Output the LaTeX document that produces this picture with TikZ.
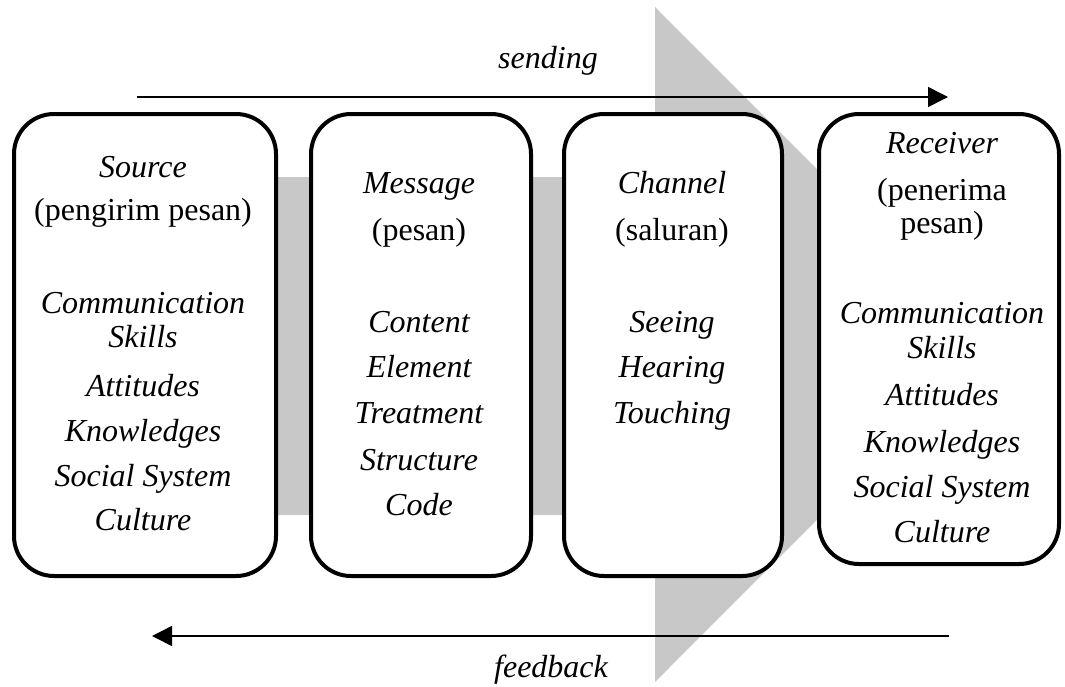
\documentclass[tikz,border=0pt]{standalone}
\usepackage{fontspec}
\setmainfont{Liberation Serif}
\usetikzlibrary{arrows.meta}
\definecolor{shadegray}{RGB}{200,200,200}
\begin{document}
\begin{tikzpicture}[x=1pt,y=-1pt,
  box/.style={draw=black, line width=4pt, rounded corners=40pt, fill=white, inner sep=0pt},
  up/.style={font=\fontsize{32}{36}\selectfont, inner sep=0pt, anchor=base},
  it/.style={font=\fontsize{32}{36}\selectfont\itshape, inner sep=0pt, anchor=base},
  flow/.style={line width=1.5pt, -{Triangle[length=20pt,width=20pt]}}]
\useasboundingbox (0,0) rectangle (1065,686);
% big background arrow
\fill[shadegray] (40,177) -- (655,177) -- (655,7) -- (992,344.5) -- (655,682) -- (655,515) -- (40,515) -- cycle;
% sending / feedback arrows
\coordinate (sendS) at (137,97);
\coordinate (sendE) at (948,97);
\draw[flow] (sendS) -- (sendE);
\node[it] (sending) at (548,68) {sending};
\coordinate (fbS) at (949,636);
\coordinate (fbE) at (152,636);
\draw[flow] (fbS) -- (fbE);
\node[it] (feedback) at (551,677) {feedback};
% boxes
\node[box, minimum width=262pt, minimum height=462pt] (b1) at (145,345) {};
\node[box, minimum width=220pt, minimum height=462pt] (b2) at (421,345) {};
\node[box, minimum width=218pt, minimum height=462pt] (b3) at (673,345) {};
\node[box, minimum width=240pt, minimum height=450pt] (b4) at (939,339) {};
% box 1
\node[it] (s1) at (143,177) {Source};
\node[up] (s2) at (143,220) {(pengirim pesan)};
\node[it] (s3) at (143,313) {Communication};
\node[it] (s4) at (143,347) {Skills};
\node[it] (s5) at (143,396) {Attitudes};
\node[it] (s6) at (143,441) {Knowledges};
\node[it] (s7) at (143,486) {Social System};
\node[it] (s8) at (143,530) {Culture};
% box 2
\node[it] (m1) at (419,193) {Message};
\node[up] (m2) at (419,240) {(pesan)};
\node[it] (m3) at (419,332) {Content};
\node[it] (m4) at (419,377) {Element};
\node[it] (m5) at (419,423) {Treatment};
\node[it] (m6) at (419,470) {Structure};
\node[it] (m7) at (419,515) {Code};
% box 3
\node[it] (c1) at (672,193) {Channel};
\node[up] (c2) at (672,240) {(saluran)};
\node[it] (c3) at (672,332) {Seeing};
\node[it] (c4) at (672,377) {Hearing};
\node[it] (c5) at (672,423) {Touching};
% box 4
\node[it] (r1) at (942,153) {Receiver};
\node[up] (r2) at (942,200) {(penerima};
\node[up] (r3) at (942,233) {pesan)};
\node[it] (r4) at (942,323) {Communication};
\node[it] (r5) at (942,358) {Skills};
\node[it] (r6) at (942,405) {Attitudes};
\node[it] (r7) at (942,452) {Knowledges};
\node[it] (r8) at (942,497) {Social System};
\node[it] (r9) at (942,542) {Culture};
\end{tikzpicture}
\end{document}
